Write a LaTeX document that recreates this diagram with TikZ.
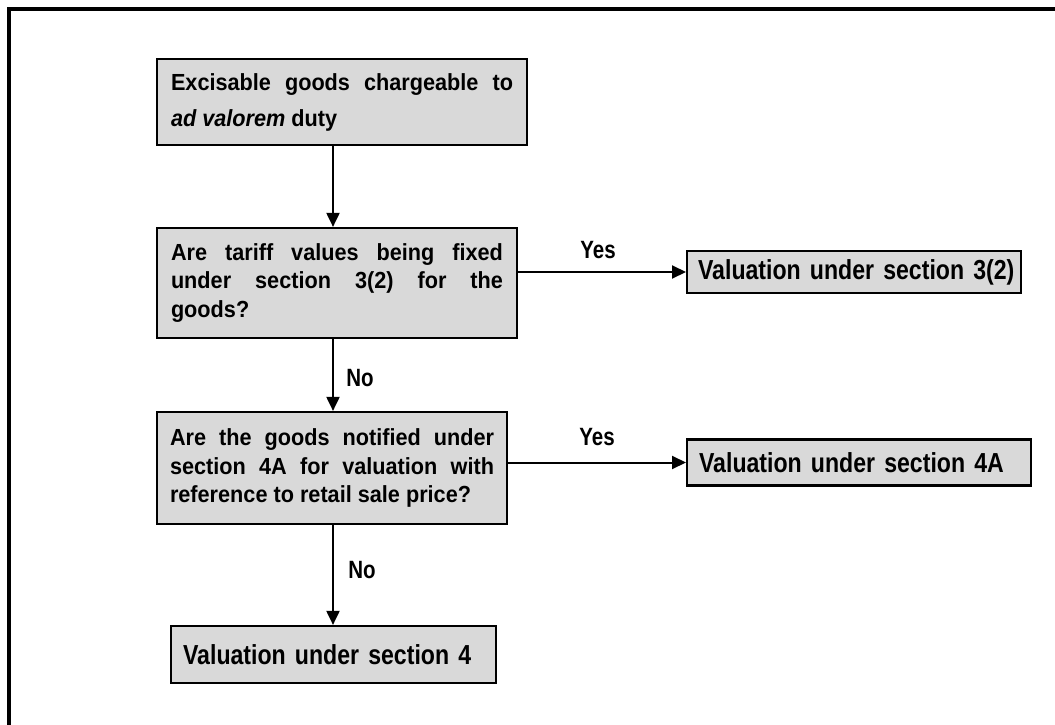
\documentclass[tikz,border=0pt]{standalone}
\usepackage{fontspec}
\setmainfont{Liberation Sans}
% slightly condensed faces for the box texts and branch labels
\newfontfamily\questionface[FakeStretch=0.93]{Liberation Sans}
\newfontfamily\outcomeface[FakeStretch=0.84]{Liberation Sans}
\newfontfamily\labelface[FakeStretch=0.82]{Liberation Sans}
\usetikzlibrary{arrows.meta}
\definecolor{boxgray}{HTML}{D9D9D9}
\begin{document}
\begin{tikzpicture}[x=1pt,y=-1pt,
  box/.style={draw=black, line width=2.2pt, fill=boxgray, inner ysep=0pt},
  qbox/.style={box, align=justify,
    font=\questionface\fontsize{23.3}{28.5}\selectfont\bfseries},
  vbox/.style={box, anchor=west, align=left,
    font=\outcomeface\fontsize{27.5}{30}\selectfont\bfseries},
  flow/.style={line width=2pt, -{Triangle[length=14pt,width=13pt]}},
  lbl/.style={font=\labelface\fontsize{25}{26}\selectfont\bfseries, inner sep=0pt}]
\useasboundingbox (0,0) rectangle (1055,725);
% frame along the top and left edges
\draw[line width=4pt] (9,725) -- (9,9) -- (1055,9);

% vertical spine of the flow
\coordinate (spine) at (333,0);

% question boxes
\node[qbox, minimum width=370pt, minimum height=86pt, text width=342pt,
  inner xsep=14pt, font=\questionface\fontsize{23.3}{36}\selectfont\bfseries] (start) at (342,102)
  {Excisable goods chargeable to\linebreak \textit{ad valorem} duty};
\node[qbox, minimum width=360pt, minimum height=110pt, text width=332pt,
  inner xsep=14pt] (q1) at (337,283)
  {Are tariff values being fixed\linebreak under section 3(2) for the\linebreak goods?};
\node[qbox, minimum width=350pt, minimum height=112pt, text width=324pt,
  inner xsep=13pt] (q2) at (332,468)
  {Are the goods notified under\linebreak section 4A for valuation with\linebreak reference to retail sale price?};

% outcome boxes (single lines, kept unbroken)
\node[vbox, minimum height=42pt, text width=312pt, inner xsep=11pt] (v1) at (686,272)
  {\mbox{Valuation under section 3(2)}};
\node[vbox, minimum height=46pt, text width=320pt, inner xsep=12pt] (v2) at (686,462.5)
  {\mbox{Valuation under section 4A}};
\node[vbox, minimum height=57pt, text width=301pt, inner xsep=12pt] (v3) at (170,654.5)
  {\mbox{Valuation under section 4}};

% connectors
\draw[flow] (spine |- start.south) -- (spine |- q1.north);
\draw[flow] (spine |- q1.south) -- (spine |- q2.north);
\draw[flow] (spine |- q2.south) -- (spine |- v3.north);
\draw[flow] (v1.west -| q1.east) -- (v1.west);
\draw[flow] (v2.west -| q2.east) -- (v2.west);

% branch labels
\node[lbl] (yes1) at (598,250) {Yes};
\node[lbl] (no1) at (360,378) {No};
\node[lbl] (yes2) at (597,437) {Yes};
\node[lbl] (no2) at (362,570) {No};
\end{tikzpicture}
\end{document}
